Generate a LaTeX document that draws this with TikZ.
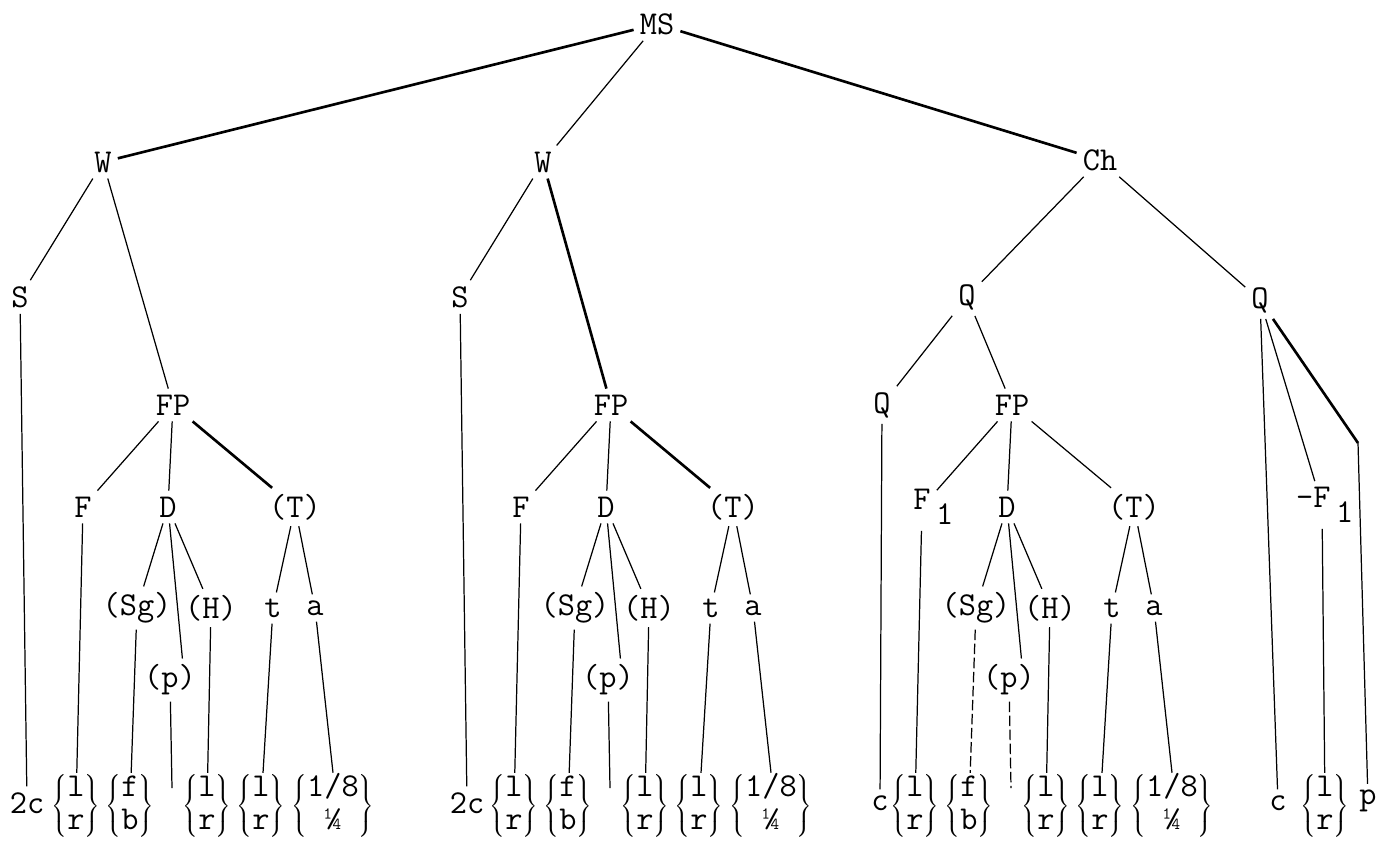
\documentclass[tikz,border=0pt]{standalone}
\usepackage{fontspec}
\newcommand{\pairleaf}[2]{$\renewcommand{\arraystretch}{0.85}\left\{\begin{array}{@{}c@{}}\mbox{#1}\\\mbox{#2}\end{array}\right\}$}
\begin{document}
\begin{tikzpicture}[x=0.02cm,y=-0.02cm,
	every node/.style={font=\fontsize{19}{22}\selectfont\ttfamily},
	leaf/.style={inner sep=0pt},
	twig/.style={line width=0.7pt},
	bough/.style={line width=1.5pt},
	dashy/.style={line width=0.7pt,dash pattern=on 6pt off 2pt}]
	\useasboundingbox (0,0) rectangle (1381,843);
	% upper levels
	\node (ms) at (657,24) {MS};
	\node (wa) at (103,162) {W};
	\node (wb) at (543,162) {W};
	\node (ch) at (1100,160) {Ch};
	\node (sa) at (20,297) {S};
	\node (sb) at (460,297) {S};
	\node (qa) at (967,297) {Q};
	\node (qb) at (1260,300) {Q};
	\node (qc) at (882,405) {Q};
	\node (fd) at (1322,505) {\llap{-}F\rlap{\raisebox{-.45em}{\,1}}};
	\coordinate (kb) at (1358,443);
	\node (twoa) at (27,803) {2c};
	\node (twob) at (467,803) {2c};
	\node (cc) at (880,803) {c};
	\node (cq) at (1278,803) {c};
	\node[leaf] (lfd) at (1325,806) {\pairleaf{l}{r}};
	\node (pq) at (1368,801) {p};
	% the three FP subtrees
	\foreach \s/\dx/\flab in {a/0/F,b/438/F,c/839/{F\rlap{\raisebox{-.45em}{\,1}}}}{
		\node (fp\s) at ({173+\dx},405) {FP};
		\node (f\s) at ({83+\dx},507) {\flab};
		\node (d\s) at ({168+\dx},507) {D};
		\node (t\s) at ({295+\dx},507) {(T)};
		\node (sg\s) at ({137+\dx},608) {(Sg)};
		\node (h\s) at ({211+\dx},608) {(H)};
		\node (tt\s) at ({273+\dx},608) {t};
		\node (a\s) at ({315+\dx},608) {a};
		\node (p\s) at ({170+\dx},680) {(p)};
		\node[leaf] (lf\s) at ({76+\dx},806) {\pairleaf{l}{r}};
		\node[leaf] (fb\s) at ({130+\dx},806) {\pairleaf{f}{b}};
		\coordinate (e\s) at ({172+\dx},788);
		\node[leaf] (lh\s) at ({207+\dx},806) {\pairleaf{l}{r}};
		\node[leaf] (lt\s) at ({261+\dx},806) {\pairleaf{l}{r}};
		\node[leaf] (la\s) at ({333+\dx},806) {\pairleaf{1/8}{\smash{¼}}};
		\draw[twig] (fp\s) -- (f\s); \draw[twig] (fp\s) -- (d\s);
		\draw[twig] (d\s) -- (sg\s); \draw[twig] (d\s) -- (p\s.60); \draw[twig] (d\s) -- (h\s);
		\draw[twig] (t\s) -- (tt\s); \draw[twig] (t\s) -- (a\s);
		\draw[twig] (f\s) -- (lf\s); \draw[twig] (h\s) -- (lh\s);
		\draw[twig] (tt\s) -- (lt\s); \draw[twig] (a\s) -- (la\s.north);
	}
	\draw[bough] (fpa) -- (ta); \draw[bough] (fpb) -- (tb); \draw[twig] (fpc) -- (tc);
	\draw[twig] (sga) -- (fba); \draw[twig] (sgb) -- (fbb); \draw[dashy] (sgc) -- (fbc);
	\draw[twig] (pa) -- (ea); \draw[twig] (pb) -- (eb); \draw[dashy] (pc) -- (ec);
	% upper edges
	\draw[bough] (ms) -- (wa);
	\draw[twig] (ms) -- (wb);
	\draw[bough] (ms) -- (ch);
	\draw[twig] (wa) -- (sa); \draw[twig] (wa) -- (fpa);
	\draw[twig] (wb) -- (sb); \draw[bough] (wb) -- (fpb);
	\draw[twig] (ch) -- (qa); \draw[twig] (ch) -- (qb);
	\draw[twig] (qa) -- (qc); \draw[twig] (qa) -- (fpc);
	\draw[twig] (qb) -- (cq); \draw[twig] (qb) -- (fd);
	\draw[bough] (qb) -- (kb); \draw[twig] (kb) -- (pq);
	\draw[twig] (fd) -- (lfd);
	\draw[twig] (sa) -- (twoa); \draw[twig] (sb) -- (twob); \draw[twig] (qc) -- (cc);
\end{tikzpicture}
\end{document}
